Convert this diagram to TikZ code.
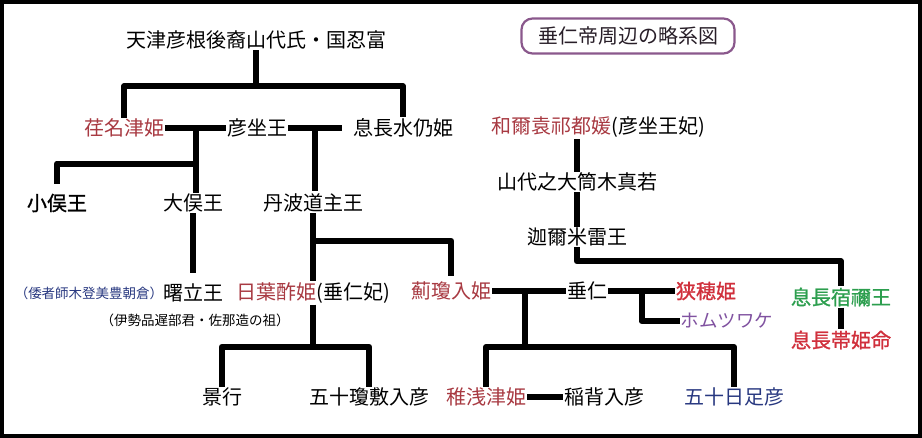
\documentclass[tikz,border=0pt]{standalone}
\usepackage{fontspec}
\setmainfont{Noto Sans CJK JP}
\newfontfamily\halfbold[FakeBold=1.2]{Noto Sans CJK JP}
\usetikzlibrary{calc}
\definecolor{himered}{RGB}{168,58,66}
\definecolor{brightred}{RGB}{208,48,60}
\definecolor{sukunegreen}{RGB}{44,158,78}
\definecolor{homupurple}{RGB}{128,82,160}
\definecolor{framepurple}{RGB}{138,88,140}
\definecolor{navy}{RGB}{40,56,128}
\definecolor{titletext}{RGB}{40,30,40}

\begin{document}
\begin{tikzpicture}[x=1pt,y=-1pt,
    person/.style={inner sep=1pt,font=\fontsize{20}{24}\selectfont},
    strong/.style={person,font=\fontsize{20}{24}\selectfont\halfbold},
    note/.style={inner sep=1pt,font=\fontsize{13.5}{16}\selectfont},
    line/.style={line width=6pt,line join=round}]

    \useasboundingbox (0,0) rectangle (922,438);

    \draw[line width=4pt] (2,2) rectangle (920,436);

    \node[draw=framepurple,line width=2.2pt,rounded corners=11pt,minimum width=213pt,minimum height=35pt,
      text=titletext,font=\fontsize{20}{24}\selectfont] (title) at (628,36) {垂仁帝周辺の略系図};

    \node[person] (top) at (256,40) {天津彦根後裔山代氏・国忍富};

    \node[person,text=himered] (ena) at (124,128) {荏名津姫};

    \node[person] (hiko) at (257,128) {彦坐王};

    \node[person] (mizu) at (403,128) {息長水仍姫};

    \node[person] (wani) at (598,127) {\textcolor{himered}{和爾袁祁都媛}(彦坐王妃)};

    \node[person] (yama) at (577,182) {山代之大筒木真若};

    \node[person] (kani) at (577,237) {迦爾米雷王};

    \node[strong] (komata) at (57,203) {小俣王};

    \node[person] (omata) at (193,203) {大俣王};

    \node[person] (tanba) at (313,203) {丹波道主王};

    \node[note,text=navy] (washa) at (89,293) {（倭者師木登美豊朝倉）};

    \node[person] (akeno) at (193,293) {曙立王};

    \node[note] (ise) at (195,320) {（伊勢品遅部君・佐那造の祖）};

    \node[person] (hibasu) at (313,293) {\textcolor{himered}{日葉酢姫}(垂仁妃)};

    \node[person,text=himered] (azami) at (451,291) {薊瓊入姫};

    \node[person] (suinin) at (587,291) {垂仁};

    \node[strong,text=brightred] (saho) at (706,291) {狭穂姫};

    \node[person,text=homupurple,font=\fontsize{18.5}{22}\selectfont] (homutsu) at (727,321) {ホムツワケ};

    \node[strong,text=sukunegreen] (sukune) at (841,297) {息長宿禰王};

    \node[strong,text=brightred] (tarashi) at (841,340) {息長帯姫命};

    \node[person] (keiko) at (222,397) {景行};

    \node[person] (inishiki) at (369,397) {五十瓊敷入彦};

    \node[person,text=himered] (waka) at (486,397) {稚浅津姫};

    \node[person] (inase) at (604,397) {稲背入彦};

    \node[person,text=navy] (ika) at (734,397) {五十日足彦};

    \draw[line] (top.south) -- ++(0,36) coordinate (j0);

    \draw[line] (ena.north) |- (j0) -| (mizu.north);

    \draw[line] (ena.east) -- (hiko.west) coordinate[pos=0.5] (m1);

    \draw[line] (m1) -- (m1 |- omata.north) coordinate (j1);

    \draw[line] (komata.north) ++(0,-9) |- ($(m1)!0.55!(j1)$);

    \draw[line] (hiko.east) -- ($(mizu.west)+(-10,0)$) coordinate[pos=0.5] (m2);

    \draw[line] (m2) -- ($(m2 |- tanba.north)+(0,-2)$);

    \draw[line] (omata.south) -- ($(akeno.north)+(0,-10)$);

    \draw[line] (tanba.south) -- (hibasu.north);

    \draw[line] ($(tanba.south)!0.4!(hibasu.north)$) -| ($(azami.north)+(0,-5)$);

    \draw[line] (hibasu.south) -- ++(0,42) coordinate (j3);

    \draw[line] (keiko.north) |- (j3) -| (inishiki.north);

    \draw[line] (yama.north) -- (yama.north |- wani.south);

    \draw[line] (yama.south) -- (kani.north);

    \draw[line] (kani.south) -- ++(0,14) -| (sukune.north);

    \draw[line] (sukune.south) -- (tarashi.north);

    \draw[line] (azami.east) -- (suinin.west) coordinate[pos=0.45] (m4);

    \draw[line] (m4) -- ++(0,56) coordinate (j4);

    \draw[line] (waka.north) |- (j4) -| (ika.north);

    \draw[line] (suinin.east) -- (saho.west) coordinate[pos=0.5] (m5);

    \draw[line] (m5) |- (homutsu.west);

    \draw[line] (waka.east) -- (inase.west);

  \end{tikzpicture}
\end{document}
